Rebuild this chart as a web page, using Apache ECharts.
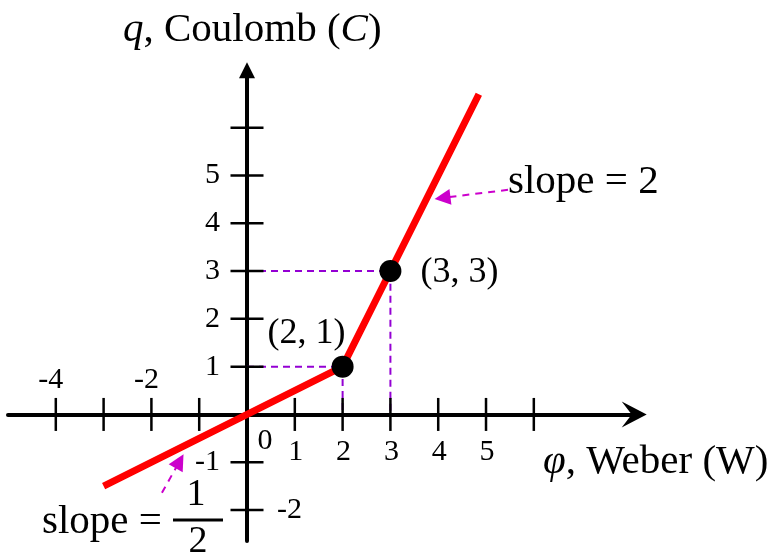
<!DOCTYPE html>
<html>
<head>
<meta charset="utf-8">
<script src="https://cdn.jsdelivr.net/npm/echarts@6/dist/echarts.min.js"></script>
<style>
  html, body { margin: 0; padding: 0; background: #ffffff; }
  #chart { width: 781px; height: 557px; }
</style>
</head>
<body>
<div id="chart"></div>
<script>
// Piecewise-linear charge–flux characteristic q(φ)
const phiValues = [-3, 2, 3, 4.85];
const qValues = [-1.5, 1, 3, 6.7];

// Breakpoints marked on the curve
const breakPhi = [2, 3];
const breakQ = [1, 3];
const breakLabels = ['(2, 1)', '(3, 3)'];

// Tick marks and tick labels
const xTickValues = [-4, -3, -2, -1, 1, 2, 3, 4, 5, 6];
const yTickValues = [-2, -1, 1, 2, 3, 4, 5, 6];
const xLabelValues = [-4, -2, 0, 1, 2, 3, 4, 5];
const yLabelValues = [-2, -1, 1, 2, 3, 4, 5];

// Slope call-out arrows (text end -> head), in data units
const slopeArrowFrom = [[5.46, 4.70], [-1.78, -1.64]];
const slopeArrowTo = [[4.09, 4.53], [-1.41, -0.98]];

const SERIF = 'Liberation Serif';
const GUIDE = '#9400d3';
const CALLOUT = '#cc00cc';

const chart = echarts.init(document.getElementById('chart'), null, { renderer: 'canvas' });

// one dashed guide per breakpoint: (0,q) -> (φ,q) -> (φ,0)
const guideSeries = breakPhi.map((p, i) => ({
  type: 'line',
  data: [[0, breakQ[i]], [p, breakQ[i]], [p, 0]],
  symbol: 'none',
  silent: true,
  z: 2,
  lineStyle: { color: GUIDE, width: 2, type: [7, 5] }
}));

const xTickLabelData = xLabelValues.map(v => {
  let offset;
  if (v === 0) offset = [18, 27];
  else if (v < 0) offset = [-5, -34];
  else offset = [1, 38];
  return { value: [v, 0], label: { offset: offset, align: 'center' } };
});

const yTickLabelData = yLabelValues.map(v => {
  const rightSide = v < -1;
  return {
    value: [0, v],
    label: rightSide
      ? { offset: [30, 0], align: 'left' }
      : { offset: [-27, 0], align: 'right' }
  };
});

const tickLabelStyle = {
  show: true,
  position: 'inside',
  fontFamily: SERIF,
  fontSize: 30,
  color: '#000',
  opacity: 1,
  verticalAlign: 'middle'
};

const solid = { color: '#000', opacity: 1 };

chart.setOption({
  animation: false,
  backgroundColor: '#ffffff',
  grid: {
    left: 8, top: 70.3, width: 626.2, height: 470.8,
    outerBoundsMode: 'none', containLabel: false
  },
  xAxis: {
    type: 'value', min: -5, max: 8.1,
    splitLine: { show: false },
    axisTick: { show: false },
    axisLabel: { show: false },
    axisLine: {
      onZero: true,
      lineStyle: { color: '#000', width: 4 },
      symbol: ['none', 'path://M13,0 L26,25 L13,15 L0,25 Z'],
      symbolSize: [26, 25]
    }
  },
  yAxis: {
    type: 'value', min: -2.65, max: 7.2,
    splitLine: { show: false },
    axisTick: { show: false },
    axisLabel: { show: false },
    axisLine: {
      onZero: true,
      lineStyle: { color: '#000', width: 4 },
      symbol: ['none', 'triangle'],
      symbolSize: [16, 16]
    }
  },
  series: [
    ...guideSeries,
    {
      name: 'callouts',
      type: 'lines',
      coordinateSystem: 'cartesian2d',
      silent: true,
      z: 3,
      symbol: ['none', 'triangle'],
      symbolSize: [15, 16],
      lineStyle: { color: CALLOUT, width: 2, type: [7, 6], opacity: 1 },
      data: slopeArrowFrom.map((f, i) => ({ coords: [f, slopeArrowTo[i]] }))
    },
    {
      name: 'q(phi)',
      type: 'line',
      data: phiValues.map((p, i) => [p, qValues[i]]),
      symbol: 'none',
      silent: true,
      z: 4,
      lineStyle: { color: '#ff0000', width: 7, cap: 'butt', join: 'miter' }
    },
    {
      name: 'xTicks',
      type: 'scatter',
      data: xTickValues.map(v => [v, 0]),
      symbol: 'rect',
      symbolSize: [2.5, 33],
      itemStyle: solid,
      silent: true,
      z: 5
    },
    {
      name: 'yTicks',
      type: 'scatter',
      data: yTickValues.map(v => [0, v]),
      symbol: 'rect',
      symbolSize: [33, 2.5],
      itemStyle: solid,
      silent: true,
      z: 5
    },
    {
      name: 'xLabels',
      type: 'scatter',
      data: xTickLabelData,
      symbolSize: 0,
      itemStyle: solid,
      silent: true,
      z: 6,
      label: Object.assign({}, tickLabelStyle, { formatter: p => String(p.value[0]) })
    },
    {
      name: 'yLabels',
      type: 'scatter',
      data: yTickLabelData,
      symbolSize: 0,
      itemStyle: solid,
      silent: true,
      z: 6,
      label: Object.assign({}, tickLabelStyle, { formatter: p => String(p.value[1]) })
    },
    {
      name: 'breakpoints',
      type: 'scatter',
      data: breakPhi.map((p, i) => ({
        value: [p, breakQ[i]],
        name: breakLabels[i],
        label: i === 0
          ? { position: 'inside', offset: [-36, -33], align: 'center' }
          : { position: 'right', distance: 19, offset: [0, 1] }
      })),
      symbol: 'circle',
      symbolSize: 22,
      itemStyle: solid,
      silent: true,
      z: 7,
      label: {
        show: true,
        formatter: p => p.name,
        fontFamily: SERIF,
        fontSize: 36,
        color: '#000',
        opacity: 1,
        verticalAlign: 'middle'
      }
    }
  ],
  graphic: [
    {
      type: 'text', x: 123, y: 30.5, silent: true,
      style: {
        text: '{i|q}{n|, Coulomb (}{i|C}{n|)}',
        verticalAlign: 'middle', align: 'left',
        rich: {
          n: { fontFamily: SERIF, fontSize: 41, fill: '#000' },
          i: { fontFamily: SERIF, fontSize: 41, fontStyle: 'italic', fill: '#000' }
        }
      }
    },
    {
      type: 'text', x: 543, y: 462.5, silent: true,
      style: {
        text: '{i|φ}{n|, Weber (W)}',
        verticalAlign: 'middle', align: 'left',
        rich: {
          n: { fontFamily: SERIF, fontSize: 41, fill: '#000' },
          i: { fontFamily: SERIF, fontSize: 41, fontStyle: 'italic', fill: '#000' }
        }
      }
    },
    {
      type: 'text', x: 508, y: 182.5, silent: true,
      style: {
        text: 'slope = 2', fontFamily: SERIF, fontSize: 41, fill: '#000',
        verticalAlign: 'middle', align: 'left'
      }
    },
    {
      type: 'text', x: 42, y: 522.5, silent: true,
      style: {
        text: 'slope =', fontFamily: SERIF, fontSize: 41, fill: '#000',
        verticalAlign: 'middle', align: 'left'
      }
    },
    {
      type: 'text', x: 196, y: 495.4, silent: true,
      style: {
        text: '1', fontFamily: SERIF, fontSize: 38, fill: '#000',
        verticalAlign: 'middle', align: 'center'
      }
    },
    {
      type: 'rect', silent: true,
      shape: { x: 173, y: 518.5, width: 50, height: 3 },
      style: { fill: '#000' }
    },
    {
      type: 'text', x: 198, y: 542.4, silent: true,
      style: {
        text: '2', fontFamily: SERIF, fontSize: 38, fill: '#000',
        verticalAlign: 'middle', align: 'center'
      }
    }
  ]
});
</script>
</body>
</html>
